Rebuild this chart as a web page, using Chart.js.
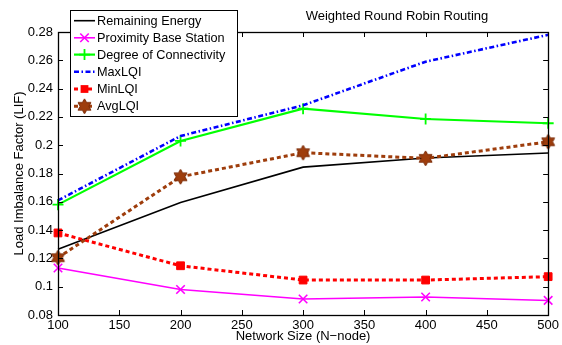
<!DOCTYPE html>
<html><head><meta charset="utf-8">
<script src="https://cdn.jsdelivr.net/npm/chart.js@4/dist/chart.umd.min.js"></script>
<style>html,body{margin:0;padding:0;background:#fff}#wrap{width:562px;height:345px;position:relative}</style>
</head><body><div id="wrap"><canvas id="c" width="562" height="345"></canvas></div>
<script>
const networkSizes = [100, 200, 300, 400, 500];
const remainingEnergy = [0.1265, 0.1595, 0.1845, 0.1910, 0.1945];
const proximityBaseStation = [0.1132, 0.0980, 0.0913, 0.0927, 0.0903];
const degreeOfConnectivity = [0.1580, 0.2030, 0.2258, 0.2185, 0.2155];
const maxLQI = [0.1610, 0.2065, 0.2282, 0.2590, 0.2780];
const minLQI = [0.1380, 0.1148, 0.1047, 0.1047, 0.1071];
const avgLQI = [0.1205, 0.1777, 0.1947, 0.1907, 0.2024];
const xTicks = [100, 150, 200, 250, 300, 350, 400, 450, 500];
const yTicks = [0.08, 0.10, 0.12, 0.14, 0.16, 0.18, 0.20, 0.22, 0.24, 0.26, 0.28];
const seriesNames = ['Remaining Energy', 'Proximity Base Station', 'Degree of Connectivity', 'MaxLQI', 'MinLQI', 'AvgLQI'];
const chartTitle = 'Weighted Round Robin Routing';
const xTitle = 'Network Size (N\u2212node)';
const yTitle = 'Load Imbalance Factor (LIF)';

const FONT = '"Liberation Sans", Arial, Helvetica, sans-serif';
const BROWN = '#9e3d0c';

function hexagram(R, fill, stroke) {
  const s = Math.ceil(R * 2 + 4);
  const cv = document.createElement('canvas');
  cv.width = s; cv.height = s;
  const g = cv.getContext('2d');
  const c = s / 2, r = R / Math.sqrt(3);
  g.beginPath();
  for (let i = 0; i < 12; i++) {
    const a = -Math.PI / 2 + i * Math.PI / 6;
    const rr = i % 2 === 0 ? R : r;
    const px = c + rr * Math.cos(a), py = c + rr * Math.sin(a);
    i === 0 ? g.moveTo(px, py) : g.lineTo(px, py);
  }
  g.closePath();
  g.fillStyle = fill; g.fill();
  g.strokeStyle = stroke; g.lineWidth = 1; g.stroke();
  return cv;
}
const hexImg = hexagram(7.5, BROWN, '#7a2a05');

const toPts = arr => arr.map((v, i) => ({ x: networkSizes[i], y: v }));

const styles = [
  { color: '#000000', width: 1.6, dash: [], point: false, order: 5 },
  { color: '#ff00ff', width: 1.6, dash: [], point: 'crossRot', r: 6, pw: 1.6, order: 4 },
  { color: '#00ff00', width: 2.2, dash: [], point: 'cross', r: 5.5, pw: 1.8, order: 3 },
  { color: '#0000ff', width: 2.6, dash: [5, 2.5, 1.5, 2.5], point: false, order: 2 },
  { color: '#ff0000', width: 3, dash: [4, 3], point: 'rect', r: 5.5, pw: 1, order: 1 },
  { color: BROWN, width: 3, dash: [4, 3], point: hexImg, r: 7.5, pw: 1, order: 0 }
];
const seriesData = [remainingEnergy, proximityBaseStation, degreeOfConnectivity, maxLQI, minLQI, avgLQI];

const datasets = seriesData.map((d, i) => {
  const s = styles[i];
  return {
    label: seriesNames[i],
    data: toPts(d),
    borderColor: s.color,
    backgroundColor: s.color,
    borderWidth: s.width,
    borderDash: s.dash,
    tension: 0,
    fill: false,
    clip: false,
    order: s.order,
    pointStyle: s.point || 'circle',
    pointRadius: s.point ? s.r : 0,
    pointHoverRadius: s.point ? s.r : 0,
    pointBorderWidth: s.pw || 1,
    pointBorderColor: s.color,
    pointBackgroundColor: s.color
  };
});

const frame = {
  id: 'frame',
  afterDraw(chart) {
    const { ctx, chartArea: a, scales: { x, y } } = chart;
    ctx.save();
    ctx.strokeStyle = '#000';
    ctx.lineWidth = 1;
    ctx.setLineDash([]);
    ctx.beginPath();
    const L = 5;
    xTicks.forEach(v => {
      const px = Math.round(x.getPixelForValue(v)) + 0.5;
      ctx.moveTo(px, a.bottom); ctx.lineTo(px, a.bottom - L);
      ctx.moveTo(px, a.top); ctx.lineTo(px, a.top + L);
    });
    yTicks.forEach(v => {
      const py = Math.round(y.getPixelForValue(v)) + 0.5;
      ctx.moveTo(a.left, py); ctx.lineTo(a.left + L, py);
      ctx.moveTo(a.right, py); ctx.lineTo(a.right - L, py);
    });
    ctx.stroke();
    ctx.lineWidth = 1.3;
    ctx.strokeRect(Math.round(a.left) + 0.5, Math.round(a.top) + 0.5, Math.round(a.right - a.left), Math.round(a.bottom - a.top));

    // title
    ctx.fillStyle = '#000';
    ctx.font = '13px ' + FONT;
    ctx.textAlign = 'center';
    ctx.textBaseline = 'middle';
    ctx.fillText(chartTitle, 397, 16);

    // legend
    const bx = 70, by = 10, bw = 167, bh = 106;
    ctx.fillStyle = '#fff';
    ctx.fillRect(bx, by, bw, bh);
    ctx.lineWidth = 1;
    ctx.strokeStyle = '#000';
    ctx.strokeRect(bx + 0.5, by + 0.5, bw, bh);
    const rows = [20.7, 37.8, 54.6, 71.7, 89, 106.3];
    seriesNames.forEach((name, i) => {
      const s = styles[i];
      const ry = rows[i];
      ctx.save();
      ctx.strokeStyle = s.color;
      ctx.lineWidth = s.width;
      ctx.setLineDash(s.dash);
      ctx.beginPath();
      ctx.moveTo(74, ry); ctx.lineTo(95, ry);
      ctx.stroke();
      ctx.setLineDash([]);
      const cx = 84.5;
      ctx.lineWidth = s.pw || 1;
      if (s.point === 'crossRot') {
        const d = s.r * Math.SQRT1_2;
        ctx.beginPath();
        ctx.moveTo(cx - d, ry - d); ctx.lineTo(cx + d, ry + d);
        ctx.moveTo(cx + d, ry - d); ctx.lineTo(cx - d, ry + d);
        ctx.stroke();
      } else if (s.point === 'cross') {
        ctx.beginPath();
        ctx.moveTo(cx - s.r, ry); ctx.lineTo(cx + s.r, ry);
        ctx.moveTo(cx, ry - s.r); ctx.lineTo(cx, ry + s.r);
        ctx.stroke();
      } else if (s.point === 'rect') {
        const h = s.r * Math.SQRT1_2;
        ctx.fillStyle = s.color;
        ctx.fillRect(cx - h, ry - h, 2 * h, 2 * h);
      } else if (s.point) {
        ctx.drawImage(s.point, cx - s.point.width / 2, ry - s.point.height / 2);
      }
      ctx.restore();
      ctx.fillStyle = '#000';
      ctx.font = '12.7px ' + FONT;
      ctx.textAlign = 'left';
      ctx.textBaseline = 'middle';
      ctx.fillText(name, 97, ry + 0.5);
    });
    ctx.restore();
  }
};

Chart.defaults.font.family = FONT;
Chart.defaults.font.size = 13;
Chart.defaults.color = '#000';

new Chart(document.getElementById('c'), {
  type: 'line',
  data: { datasets },
  options: {
    responsive: false,
    animation: false,
    devicePixelRatio: 1,
    layout: { padding: { left: 8, top: 32, right: 11, bottom: 0 } },
    plugins: { legend: { display: false }, title: { display: false }, tooltip: { enabled: false } },
    scales: {
      x: {
        type: 'linear', min: 100, max: 500,
        afterBuildTicks: s => { s.ticks = xTicks.map(v => ({ value: v })); },
        afterFit: s => { s.height = 30; },
        grid: { display: false, drawTicks: false },
        border: { display: false },
        ticks: { padding: 3, maxRotation: 0, autoSkip: false, font: { size: 13 }, color: '#000', callback: v => String(v) },
        title: { display: true, text: xTitle, font: { size: 13 }, color: '#000', padding: { top: 0, bottom: 1 } }
      },
      y: {
        type: 'linear', min: 0.08, max: 0.28,
        afterBuildTicks: s => { s.ticks = yTicks.map(v => ({ value: v })); },
        afterFit: s => { s.width = 50; },
        grid: { display: false, drawTicks: false },
        border: { display: false },
        ticks: { padding: 5, autoSkip: false, font: { size: 13 }, color: '#000', callback: v => String(Number(v.toFixed(2))) },
        title: { display: true, text: yTitle, font: { size: 13 }, color: '#000', padding: { top: 4, bottom: 0 } }
      }
    }
  },
  plugins: [frame]
});
</script>
</body></html>
